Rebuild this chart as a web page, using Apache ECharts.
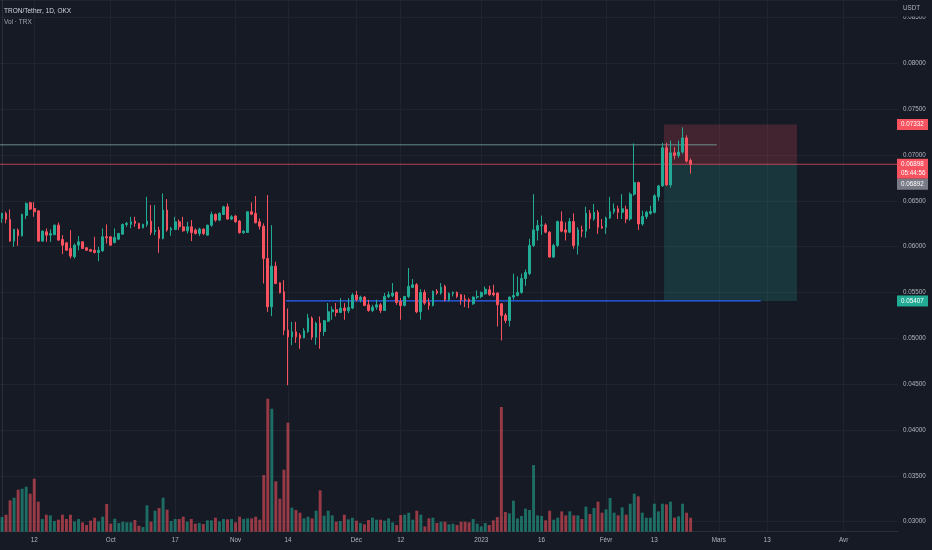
<!DOCTYPE html>
<html><head><meta charset="utf-8">
<script src="https://cdn.jsdelivr.net/npm/echarts@6/dist/echarts.min.js"></script>
<style>html,body{margin:0;padding:0;background:#161a25;}#c{width:932px;height:550px;}</style>
</head><body><div id="c"></div>
<script>
// ---- data ----
const startDate = [2022, 8, 4];   // 4 Sep 2022 (month 0-based)
const dayCount = 223;              // categories up to mid April 2023
const tickDates  = ['2022-09-12','2022-10-01','2022-10-17','2022-11-01','2022-11-14','2022-12-01','2022-12-12','2023-01-01','2023-01-16','2023-02-01','2023-02-13','2023-03-01','2023-03-13','2023-04-01'];
const tickLabels = ['12','Oct','17','Nov','14','Déc','12','2023','16','Févr','13','Mars','13','Avr'];

const opens = [
.06307,.06362,.06296,.06060,.06180,.06118,.06340,.06478,.06416,.06390,
.06060,.06162,.06125,.06130,.06234,.06078,.06041,.05980,.05889,.06016,
.06052,.05987,.05968,.05961,.05936,.05954,.06107,.06107,.06045,.06081,
.06136,.06242,.06242,.06278,.06253,.06205,.06242,.06278,.06162,.06180,
.06089,.06398,.06180,.06187,.06271,.06216,.06172,.06216,.06180,.06143,
.06191,.06125,.06234,.06351,.06289,.06351,.06434,.06300,.06333,.06278,
.06151,.06154,.06380,.06362,.06271,.06223,.05870,.05343,.05787,.05605,
.05507,.05088,.05015,.05070,.05034,.05005,.05074,.05220,.05012,.05165,
.05074,.05187,.05289,.05311,.05282,.05329,.05300,.05329,.05471,.05420,
.05449,.05365,.05303,.05340,.05365,.05303,.05453,.05464,.05500,.05402,
.05358,.05456,.05555,.05584,.05289,.05500,.05391,.05358,.05514,.05493,
.05566,.05420,.05489,.05500,.05475,.05427,.05420,.05376,.05449,.05456,
.05485,.05529,.05493,.05493,.05376,.05252,.05194,.05449,.05467,.05500,
.05651,.05706,.06013,.06177,.06229,.06236,.06157,.05886,.06013,.06273,
.06182,.06157,.06273,.06013,.06182,.06168,.06363,.06301,.06374,.06218,
.06211,.06312,.06381,.06413,.06374,.06406,.06301,.06572,.06699,.06247,
.06327,.06363,.06374,.06543,.06662,.07078,.06673,.07023,.06995,.07031,
.07186,.06940];
const closes = [
.06362,.06296,.06060,.06187,.06118,.06351,.06471,.06409,.06380,.06060,
.06169,.06125,.06143,.06234,.06071,.06016,.05961,.05896,.06016,.06052,
.05980,.05961,.05950,.05936,.05958,.06107,.06096,.06016,.06100,.06143,
.06242,.06253,.06271,.06253,.06198,.06242,.06278,.06154,.06180,.06089,
.06398,.06180,.06198,.06271,.06216,.06172,.06216,.06154,.06143,.06191,
.06143,.06234,.06351,.06289,.06362,.06434,.06300,.06325,.06271,.06151,
.06169,.06380,.06354,.06260,.06223,.05870,.05343,.05787,.05597,.05496,
.05088,.05015,.05070,.05015,.05001,.05081,.05220,.05012,.05165,.05074,
.05191,.05289,.05311,.05282,.05329,.05300,.05336,.05471,.05420,.05449,
.05358,.05303,.05340,.05365,.05303,.05456,.05475,.05493,.05391,.05358,
.05456,.05566,.05584,.05289,.05500,.05384,.05358,.05511,.05493,.05558,
.05420,.05489,.05500,.05456,.05420,.05413,.05402,.05449,.05456,.05500,
.05536,.05475,.05475,.05365,.05249,.05194,.05449,.05467,.05500,.05653,
.05717,.06013,.06182,.06229,.06236,.06157,.05886,.06013,.06273,.06168,
.06157,.06273,.06013,.06182,.06168,.06363,.06301,.06374,.06211,.06204,
.06312,.06381,.06413,.06374,.06413,.06301,.06572,.06699,.06247,.06327,
.06374,.06384,.06554,.06662,.07078,.06673,.07023,.06995,.07031,.07186,
.06933,.06898];
const lows = [
.06260,.06253,.06052,.05998,.06009,.06110,.06300,.06400,.06325,.06055,
.06055,.06052,.06052,.06125,.06063,.05918,.05955,.05870,.05870,.05961,
.05975,.05955,.05940,.05925,.05841,.05943,.06034,.06010,.06034,.06071,
.06130,.06216,.06198,.06216,.06190,.06200,.06216,.06125,.06125,.05932,
.06078,.06162,.06118,.06180,.06180,.06162,.06143,.06060,.06132,.06114,
.06125,.06120,.06216,.06271,.06278,.06343,.06296,.06289,.06260,.06143,
.06140,.06150,.06343,.06253,.06187,.05597,.05288,.05241,.05590,.05490,
.05033,.04488,.04924,.04950,.04885,.05000,.05060,.04983,.04929,.04885,
.05027,.05180,.05202,.05238,.05274,.05202,.05274,.05318,.05402,.05391,
.05350,.05289,.05285,.05311,.05274,.05300,.05438,.05449,.05365,.05202,
.05347,.05438,.05547,.05274,.05202,.05365,.05311,.05347,.05475,.05475,
.05402,.05402,.05456,.05438,.05365,.05340,.05329,.05365,.05427,.05438,
.05475,.05464,.05456,.05129,.04976,.05165,.05129,.05420,.05456,.05485,
.05572,.05688,.05995,.06067,.06128,.06146,.05879,.05876,.05995,.06157,
.06067,.06146,.05977,.05915,.06103,.06096,.06193,.06283,.06139,.06193,
.06139,.06301,.06356,.06301,.06301,.06255,.06283,.06554,.06182,.06229,
.06301,.06348,.06363,.06500,.06652,.06662,.06644,.06951,.06969,.07013,
.06915,.06796];
const highs = [
.06370,.06380,.06405,.06195,.06198,.06360,.06482,.06490,.06485,.06395,
.06175,.06198,.06187,.06240,.06263,.06125,.06045,.06180,.06034,.06114,
.06060,.05995,.05975,.06107,.05998,.06198,.06242,.06110,.06198,.06150,
.06250,.06271,.06325,.06325,.06260,.06250,.06544,.06453,.06453,.06216,
.06580,.06518,.06216,.06325,.06296,.06325,.06271,.06289,.06198,.06205,
.06198,.06240,.06380,.06362,.06373,.06445,.06471,.06343,.06343,.06289,
.06175,.06385,.06482,.06551,.06307,.06253,.06562,.06234,.05834,.05610,
.05634,.05325,.05179,.05179,.05056,.05110,.05267,.05238,.05180,.05238,
.05200,.05384,.05347,.05384,.05438,.05384,.05438,.05493,.05518,.05464,
.05460,.05420,.05365,.05420,.05384,.05493,.05511,.05602,.05511,.05438,
.05464,.05766,.05646,.05602,.05536,.05529,.05438,.05522,.05536,.05602,
.05584,.05500,.05511,.05511,.05482,.05475,.05438,.05456,.05522,.05511,
.05566,.05573,.05584,.05500,.05384,.05274,.05456,.05704,.05675,.05704,
.05749,.06085,.06572,.06291,.06338,.06255,.06168,.06031,.06283,.06384,
.06265,.06312,.06363,.06211,.06229,.06435,.06399,.06464,.06399,.06301,
.06327,.06543,.06471,.06446,.06572,.06446,.06590,.07125,.06709,.06392,
.06392,.06446,.06572,.06673,.07132,.07132,.07157,.07085,.07157,.07301,
.07215,.06962];
const volumes = [
44,51,94,102,126,129,135,114,159,90,
38,51,49,32,36,51,38,51,31,38,
28,20,33,42,31,45,83,24,39,26,
30,28,28,35,18,14,79,30,63,71,
102,66,32,38,38,45,30,38,24,26,
23,34,34,42,31,38,37,38,28,45,
38,40,40,45,36,170,399,369,151,99,
186,327,72,65,57,40,45,40,63,124,
48,63,49,30,32,51,37,42,33,26,
22,35,42,36,36,33,40,28,20,50,
51,57,36,63,51,16,40,42,26,30,
30,22,24,20,30,30,28,38,24,16,
26,20,34,44,374,59,55,93,40,47,
69,65,200,49,47,34,63,36,42,61,
49,61,49,49,38,75,53,71,90,57,
67,101,57,49,73,51,84,114,106,57,
42,42,84,61,84,82,90,42,46,84,
57,42];

// drawing-tool levels (prices) and spans (day index)
const stopLevel = 0.07332, entryLevel = 0.06898, targetLevel = 0.05407, bidLevel = 0.06892;
const resistLevel = 0.0711;
const boxSpan = [164.4, 197.4];
const resistSpan = [-0.5, 177.5];
const supportSpan = [70.5, 188.4];
const countdown = '05:44:56';
const priceMin = 0.0289, priceMax = 0.0869, volumeAxisMax = 1595;

// ---- build ----
const categories = [];
const t0 = Date.UTC(startDate[0], startDate[1], startDate[2]);
for (let i = 0; i < dayCount; i++) categories.push(new Date(t0 + i * 86400000).toISOString().slice(0, 10));
const tickMap = {}; tickDates.forEach((d, i) => tickMap[d] = tickLabels[i]);
const isTick = (i, v) => tickMap[v] !== undefined;

const UP = '#22ab94', DOWN = '#f7525f', BG = '#161a25', GRID = '#20242f', TXT = '#b2b5be';
const FONT = 'Liberation Sans, Arial, sans-serif';
const candles = opens.map((o, i) => [o, closes[i], lows[i], highs[i]]);
const volData = volumes.map((v, i) => ({
  value: v,
  itemStyle: { color: closes[i] >= opens[i] ? 'rgba(34,171,148,0.58)' : 'rgba(247,82,95,0.58)' }
}));

const chart = echarts.init(document.getElementById('c'), null, { renderer: 'canvas' });
const option = {
  backgroundColor: BG,
  animation: false,
  grid: { left: 0, right: 34, top: 0, bottom: 18.3 },
  xAxis: [
    { type: 'category', data: categories, boundaryGap: true,
      axisLine: { show: true, lineStyle: { color: '#2a2e39' } },
      axisTick: { show: false },
      axisLabel: { interval: isTick, formatter: v => tickMap[v] || '', color: TXT, fontSize: 6.3, fontFamily: FONT, margin: 6 },
      splitLine: { show: true, interval: isTick, alignWithLabel: true, lineStyle: { color: GRID, width: 1 } } },
    { type: 'value', min: -0.5, max: dayCount - 0.5, show: false }
  ],
  yAxis: [
    { type: 'value', position: 'right', min: priceMin, max: priceMax, splitNumber: 12,
      axisLine: { show: true, lineStyle: { color: '#2a2e39' } },
      axisTick: { show: false },
      axisLabel: { color: TXT, fontSize: 6.3, fontFamily: FONT, margin: 5, showMinLabel: false, showMaxLabel: false,
        formatter: v => { const r = Math.round(v / 0.005) * 0.005; return Math.abs(r - v) < 1e-7 ? v.toFixed(5) : ''; } },
      splitLine: { show: true, lineStyle: { color: GRID, width: 1 } } },
    { type: 'value', min: 0, max: volumeAxisMax, show: false, splitLine: { show: false } }
  ],
  series: [
    { type: 'bar', name: 'Vol', xAxisIndex: 0, yAxisIndex: 1, data: volData, barWidth: '72%', z: 2, silent: true },
    { type: 'line', xAxisIndex: 1, yAxisIndex: 0, symbol: 'none', silent: true, z: 3,
      data: [[resistSpan[0], resistLevel], [resistSpan[1], resistLevel]],
      lineStyle: { color: 'rgba(125,170,163,0.8)', width: 1 },
      markArea: { silent: true, z: 1, data: [
        [{ xAxis: boxSpan[0], yAxis: stopLevel, itemStyle: { color: 'rgba(247,82,95,0.2)' } }, { xAxis: boxSpan[1], yAxis: entryLevel }],
        [{ xAxis: boxSpan[0], yAxis: entryLevel, itemStyle: { color: 'rgba(34,171,148,0.2)' } }, { xAxis: boxSpan[1], yAxis: targetLevel }]
      ] } },
    { type: 'line', xAxisIndex: 1, yAxisIndex: 0, symbol: 'none', silent: true, z: 3,
      data: [[supportSpan[0], targetLevel], [supportSpan[1], targetLevel]],
      lineStyle: { color: '#2962ff', width: 1.2 } },
    // last-price line across the whole pane
    { type: 'line', xAxisIndex: 1, yAxisIndex: 0, symbol: 'none', silent: true, z: 4,
      data: [[-0.5, entryLevel], [dayCount - 0.5, entryLevel]],
      lineStyle: { color: 'rgba(247,82,95,0.7)', width: 1 } },
    { type: 'candlestick', name: 'TRX', xAxisIndex: 0, yAxisIndex: 0, data: candles, barWidth: 2.2, z: 5, silent: true,
      itemStyle: { color: UP, color0: DOWN, borderColor: UP, borderColor0: DOWN, borderWidth: 1 } }
  ]
};
chart.setOption(option);

// axis price tags, positioned through the axis scale
const xr = chart.convertToPixel({ xAxisIndex: 1 }, dayCount - 0.5);
const yOf = v => chart.convertToPixel({ yAxisIndex: 0 }, v);
const g = [];
function tag(yc, h, fill, lines, lineH) {
  g.push({ type: 'rect', shape: { x: xr - 1, y: yc - 5.5, width: 31, height: h }, style: { fill }, z: 100 });
  lines.forEach((t, k) => g.push({ type: 'text', x: xr + 3, y: yc + k * lineH,
    style: { text: t, fill: '#ffffff', fontSize: 6.3, fontFamily: FONT, verticalAlign: 'middle', align: 'left' }, z: 101 }));
}
tag(yOf(stopLevel), 11, DOWN, [stopLevel.toFixed(5)], 0);
tag(yOf(entryLevel), 20, DOWN, [entryLevel.toFixed(5), countdown], 9);
tag(yOf(entryLevel) + 20, 11, '#787b86', [bidLevel.toFixed(5)], 0);
tag(yOf(targetLevel), 11, UP, [targetLevel.toFixed(5)], 0);
g.push({ type: 'rect', shape: { x: xr + 1, y: 0, width: 34, height: 16.5 }, style: { fill: BG }, z: 100 });
g.push({ type: 'text', x: xr + 5, y: 8, style: { text: 'USDT', fill: TXT, fontSize: 6.3, fontFamily: FONT, verticalAlign: 'middle' }, z: 101 });
g.push({ type: 'text', x: 4, y: 11, style: { text: 'TRON/Tether, 1D, OKX', fill: '#d1d4dc', fontSize: 6.5, fontFamily: FONT, verticalAlign: 'middle' }, z: 101 });
g.push({ type: 'text', x: 4, y: 22, style: { text: 'Vol · TRX', fill: '#a3a6af', fontSize: 6.5, fontFamily: FONT, verticalAlign: 'middle' }, z: 101 });
chart.setOption({ graphic: g });
</script>
</body></html>
